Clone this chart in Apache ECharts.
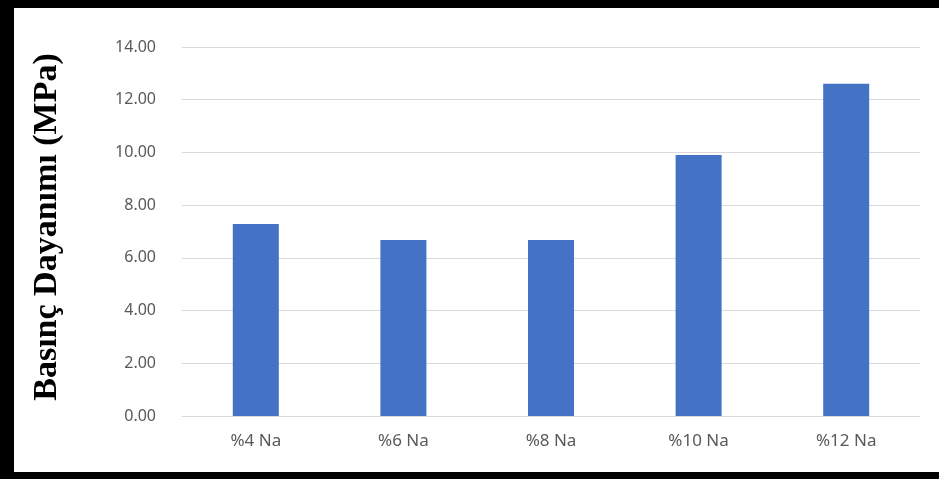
<!DOCTYPE html>
<html>
<head>
<meta charset="utf-8">
<script src="https://cdn.jsdelivr.net/npm/echarts@6/dist/echarts.min.js"></script>
<style>
html,body{margin:0;padding:0;background:#fff;}
#c{width:939px;height:479px;}
</style>
</head>
<body>
<div id="c"></div>
<script>
const categories = ['%4 Na', '%6 Na', '%8 Na', '%10 Na', '%12 Na'];
const values = [7.28, 6.68, 6.68, 9.90, 12.61];
const yTitle = 'Basınç Dayanımı (MPa)';

const chart = echarts.init(document.getElementById('c'));
chart.setOption({
  animation: false,
  backgroundColor: '#fff',
  grid: { left: 182, right: 19, top: 47, bottom: 63 },
  xAxis: {
    type: 'category',
    data: categories,
    axisLine: { lineStyle: { color: '#d9d9d9', width: 1 } },
    axisTick: { show: false },
    axisLabel: { color: '#595959', fontSize: 17, fontFamily: 'Noto Sans', margin: 17 }
  },
  yAxis: {
    type: 'value',
    min: 0, max: 14, interval: 2,
    name: yTitle,
    nameLocation: 'middle',
    nameGap: 118,
    nameTextStyle: { color: '#000', fontSize: 34, fontWeight: 'bold', fontFamily: 'Liberation Serif', padding: [0, 0, 0, 9] },
    axisLine: { show: false },
    axisTick: { show: false },
    splitLine: { lineStyle: { color: '#d9d9d9', width: 1 } },
    axisLabel: {
      color: '#595959', fontSize: 16, fontFamily: 'Noto Sans', margin: 26,
      formatter: v => v.toFixed(2)
    }
  },
  series: [{
    type: 'bar',
    data: values,
    barWidth: 46,
    itemStyle: { color: '#4472C4' }
  }],
  graphic: [
    { type: 'rect', left: 0, top: 0, shape: { width: 939, height: 8 }, style: { fill: '#000' }, z: 100 },
    { type: 'rect', left: 0, top: 0, shape: { width: 14, height: 479 }, style: { fill: '#000' }, z: 100 },
    { type: 'rect', left: 0, top: 472, shape: { width: 939, height: 7 }, style: { fill: '#000' }, z: 100 }
  ]
});
</script>
</body>
</html>
